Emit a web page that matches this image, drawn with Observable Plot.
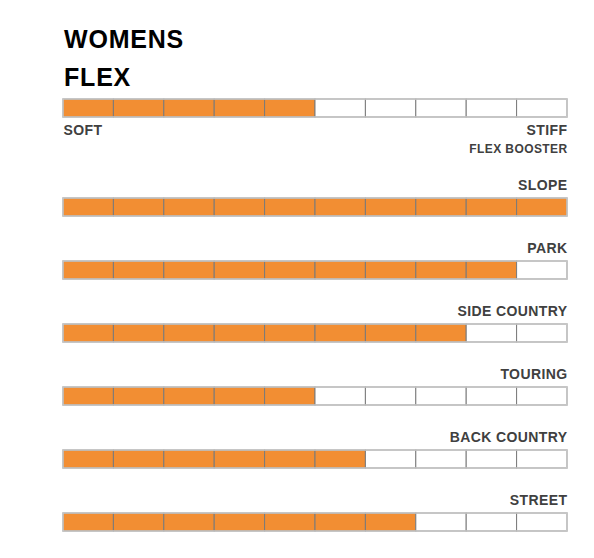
<!DOCTYPE html>
<html>
<head>
<meta charset="utf-8">
<script src="https://cdn.jsdelivr.net/npm/d3@7"></script>
<script src="https://cdn.jsdelivr.net/npm/@observablehq/plot@0.6"></script>
<style>
  html, body { margin: 0; padding: 0; background: #fff; }
  body { width: 594px; height: 558px; position: relative; overflow: hidden;
         font-family: "Liberation Sans", Arial, Helvetica, sans-serif; }
  .title { position: absolute; left: 64px; font-weight: bold; font-size: 25px;
           line-height: 25px; color: #000; letter-spacing: 0.8px; }
  #flex { position: absolute; left: 0; top: 80px; }
  #terrain { position: absolute; left: 0; top: 160px; }
  svg text { letter-spacing: 0.4px; }
</style>
</head>
<body>
<div class="title" style="top:27px">WOMENS</div>
<div class="title" style="top:65px">FLEX</div>
<div id="flex"></div>
<div id="terrain"></div>
<script>
// ---- data ----
const segments = 10;
const flexLabel = ["FLEX"];
const flexValue = [5];
const flexEnds = ["SOFT", "STIFF"];
const flexNote = ["FLEX BOOSTER"];
const terrains = ["SLOPE", "PARK", "SIDE COUNTRY", "TOURING", "BACK COUNTRY", "STREET"];
const ratings = [10, 9, 8, 5, 6, 7];

const ORANGE = "#f28e33";
const DIVIDER = "#7a7a7a";
const BORDER = "#c9c9c9";
const LABEL = "#404040";

function cells(names, values) {
  const out = [];
  names.forEach((n, k) => {
    for (let i = 0; i < segments; i++) out.push({name: n, i, on: i < values[k]});
  });
  return out;
}

const xOpts = {domain: [0, segments], axis: null};
const font = "Liberation Sans, Arial, Helvetica, sans-serif";

function barMarks(names, values) {
  return [
    Plot.rectX(cells(names, values), {x1: "i", x2: d => d.i + 1, y: "name",
      fill: d => d.on ? ORANGE : "#ffffff", stroke: DIVIDER, strokeWidth: 1, inset: 0}),
    Plot.rectX(names.map(n => ({name: n})), {x1: () => 0, x2: () => segments, y: "name",
      fill: "none", stroke: BORDER, strokeWidth: 1.5, inset: 0})
  ];
}

// Flex bar
const flexPlot = Plot.plot({
  width: 594, height: 80,
  marginLeft: 63, marginRight: 27, marginTop: 19, marginBottom: 43,
  style: {fontFamily: font, background: "transparent"},
  x: xOpts,
  y: {domain: flexLabel, axis: null, paddingInner: 0, paddingOuter: 0},
  marks: [
    ...barMarks(flexLabel, flexValue),
    Plot.text([{name: flexLabel[0], label: flexEnds[0]}], {x: () => 0, y: "name", text: "label",
      textAnchor: "start", lineAnchor: "bottom", dy: 26, fontSize: 14, fontWeight: "bold", fill: LABEL}),
    Plot.text([{name: flexLabel[0], label: flexEnds[1]}], {x: () => segments, y: "name", text: "label",
      textAnchor: "end", lineAnchor: "bottom", dy: 26, fontSize: 14, fontWeight: "bold", fill: LABEL}),
    Plot.text([{name: flexLabel[0], label: flexNote[0]}], {x: () => segments, y: "name", text: "label",
      textAnchor: "end", lineAnchor: "bottom", dy: 44, fontSize: 12, fontWeight: "bold", fill: LABEL})
  ]
});
document.getElementById("flex").appendChild(flexPlot);

// Terrain bars
const terrainPlot = Plot.plot({
  width: 594, height: 381,
  marginLeft: 63, marginRight: 27, marginTop: 38, marginBottom: 10,
  style: {fontFamily: font, background: "transparent"},
  x: xOpts,
  y: {domain: terrains, axis: null, paddingInner: 45 / 63, paddingOuter: 0},
  marks: [
    ...barMarks(terrains, ratings),
    Plot.text(terrains, {x: () => segments, y: d => d, text: d => d,
      textAnchor: "end", lineAnchor: "bottom", dy: -18, fontSize: 14, fontWeight: "bold", fill: LABEL})
  ]
});
document.getElementById("terrain").appendChild(terrainPlot);
</script>
</body>
</html>
